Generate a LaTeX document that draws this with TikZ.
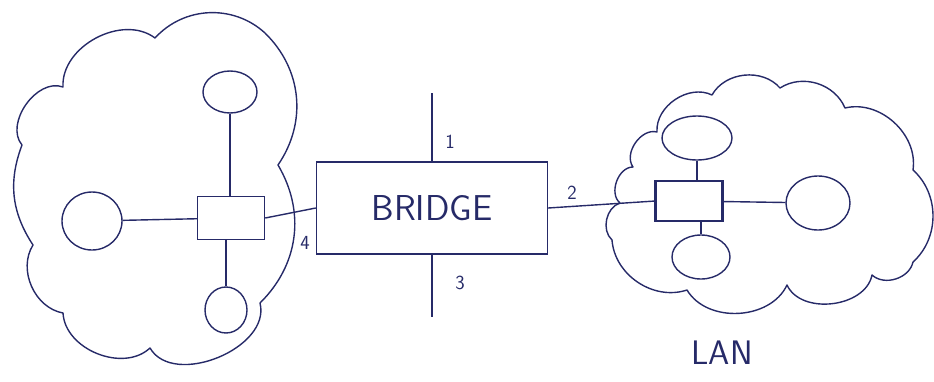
\documentclass[tikz,border=0pt]{standalone}
\usepackage{tikz}
\usetikzlibrary{shapes.geometric}

\definecolor{pen}{RGB}{38,42,104}

\tikzset{
  ink/.style={draw=pen, line width=1.4pt},
  puff/.style={bend left=#1},
  puff/.default=55,
  station/.style={ink, ellipse, inner sep=0pt},
  hub/.style={ink, rectangle, inner sep=0pt},
  port/.style={text=pen, font=\sffamily\fontsize{20}{20}\selectfont},
}

\begin{document}
\begin{tikzpicture}[x=1pt, y=-1pt]

	\useasboundingbox (0,0) rectangle (934,381);

	% the two networks
	\draw[ink, line join=round] (22,145) to[puff=75] (63,87) to[puff=65] (155,38) to[puff=45] (265,33)
	    to[puff=40] (278,165) to[puff=38] (260,303) to[puff=82] (150,348) to[puff=65] (63,313)
	    to[puff=56] (33,245) to[puff=27] (22,145);
	\draw[ink, line join=round] (620,203) to[puff=70] (633,167) to[puff=70] (657,132) to[puff=60] (712,95)
	    to[puff=55] (780,88) to[puff=50] (845,108) to[puff=56] (913,170) to[puff=48] (913,262)
	    to[puff=60] (872,275) to[puff=72] (787,285) to[puff=62] (687,290) to[puff=52] (612,240)
	    to[puff=60] (620,203);

	% left network
	\node[hub, minimum width=67pt, minimum height=43pt] (hubA) at (231,218) {};
	\node[station, minimum width=54pt, minimum height=42pt] (topA) at (230,92) {};
	\node[station, minimum width=60pt, minimum height=58pt] (leftA) at (92,221) {};
	\node[station, minimum width=42pt, minimum height=46pt] (botA) at (226,310) {};
	\draw[ink] (topA) -- (hubA.north -| topA);
	\draw[ink] (leftA) -- (hubA);
	\draw[ink] (hubA.south -| botA) -- (botA);

	% right network
	\node[hub, minimum width=66pt, minimum height=40pt] (hubB) at (689,201) {};
	\draw[ink, line width=3pt] (hubB.north west) -- (hubB.south west);
	\draw[ink, line width=3pt] (hubB.north east) -- (hubB.south east);
	\node[station, minimum width=70pt, minimum height=44pt] (topB) at (697,138) {};
	\node[station, minimum width=58pt, minimum height=44pt] (botB) at (701,257) {};
	\node[station, minimum width=64pt, minimum height=54pt] (rightB) at (818,203) {};
	\draw[ink] (topB) -- (hubB.north -| topB);
	\draw[ink] (hubB.south -| botB) -- (botB);
	\draw[ink] (hubB) -- (rightB);

	% the bridge and its ports
	\node[hub, minimum width=231pt, minimum height=92pt, text=pen,
	      font=\sffamily\fontsize{36}{36}\selectfont] (bridge) at (432,208) {BRIDGE};
	\coordinate (p1) at (432,93);
	\coordinate (p3) at (432,317);
	\draw[ink] (bridge.north) -- (p1);
	\draw[ink] (bridge.south) -- (p3);
	\draw[ink] (hubA.east) -- (bridge.west);
	\draw[ink] (bridge.east) -- (hubB.west);

	\node[port] (n1) at (450,142) {1};
	\node[port] (n2) at (572,193) {2};
	\node[port] (n3) at (460,283) {3};
	\node[port] (n4) at (305,243) {4};

	\node[text=pen, font=\sffamily\fontsize{34}{34}\selectfont] (lanlabel) at (722,353) {LAN};

\end{tikzpicture}
\end{document}
